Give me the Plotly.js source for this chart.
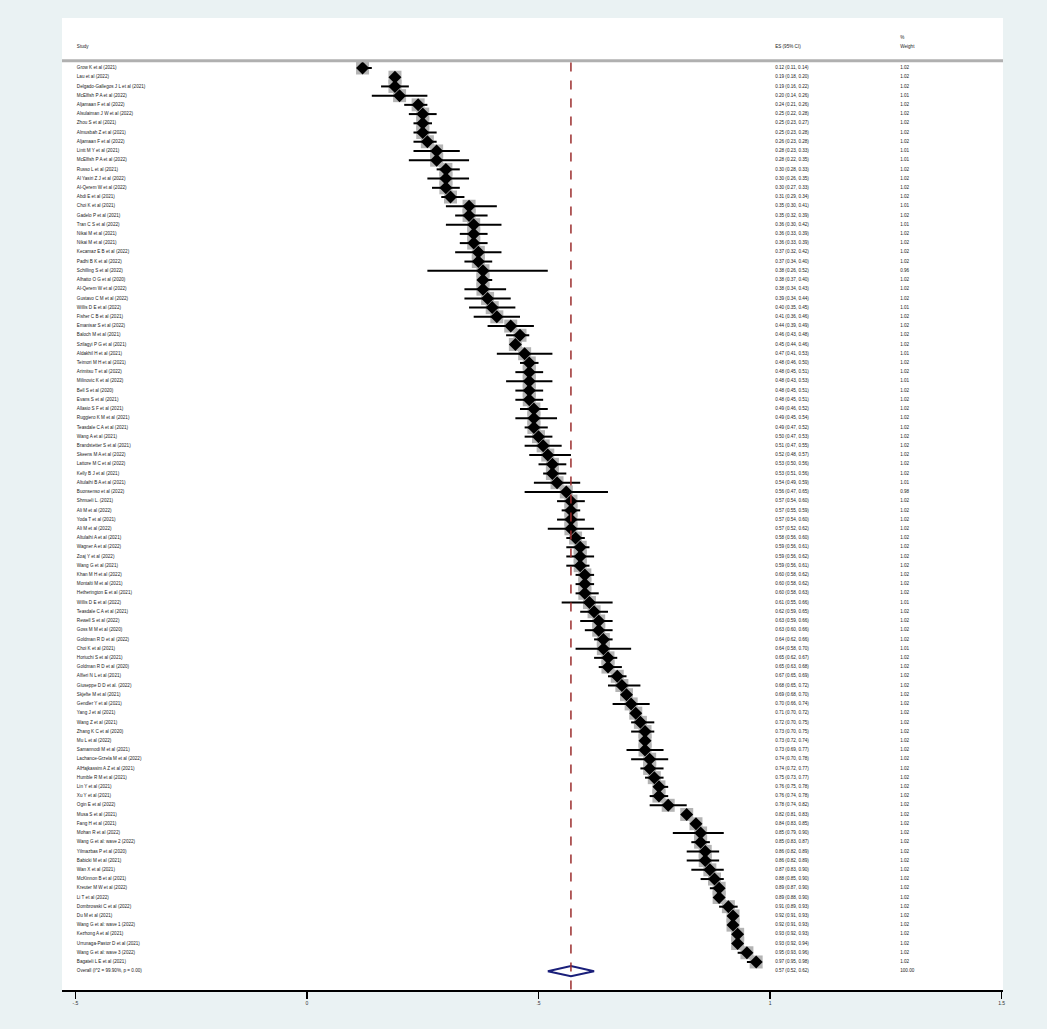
<!DOCTYPE html>
<html>
<head>
<meta charset="utf-8">
<script src="https://cdn.plot.ly/plotly-3.0.1.min.js"></script>
<style>html,body{margin:0;padding:0;background:#eaf2f3;}#chart{width:1047px;height:1029px;}</style>
</head>
<body>
<div id="chart"></div>
<script>
const studies = [
"Grow K et al (2021)","Lau et al (2022)","Delgado-Gallegos J L et al (2021)","McElfish P A et al (2022)","Aljamaan F et al (2022)",
"Alsulaiman J W et al (2022)","Zhou S et al (2021)","Almusbah Z et al (2021)","Aljamaan F et al (2022)","Lintt M Y et al (2021)",
"McElfish P A et al (2022)","Russo L et al (2021)","Al Yasiri Z J et al (2022)","Al-Qerem W et al (2022)","Abdi E et al (2021)",
"Choi K et al (2021)","Gadelo P et al (2021)","Tran C S et al (2022)","Nikai M et al (2021)","Nikai M et al (2021)",
"Kecamaz E B et al (2022)","Padhi B K et al (2022)","Schilling S et al (2022)","Alhatto O G et al (2020)","Al-Qerem W et al (2022)",
"Gustavo C M et al (2022)","Willis D E et al (2022)","Fisher C B et al (2021)","Emanisar S et al (2022)","Baloch M et al (2021)",
"Szilagyi P G et al (2021)","Aldakhil H et al (2021)","Teimori M H et al (2021)","Arimitsu T et al (2022)","Milinovic K et al (2022)",
"Bell S et al (2020)","Evans S et al (2021)","Allasio S F et al (2021)","Ruggiero K M et al (2021)","Teasdale C A et al (2021)",
"Wang A et al (2021)","Brandstetter S et al (2021)","Skeens M A et al (2022)","Lattore M C et al (2022)","Kelly B J et al (2021)",
"Altulaihi B A et al (2021)","Buonsenso et al (2022)","Shmueli L. (2021)","Ali M et al (2022)","Yoda T et al (2021)",
"Ali M et al (2022)","Altulaihi A et al (2021)","Wagner A et al (2022)","Zoaj Y et al (2022)","Wang G et al (2021)",
"Khan M H et al (2022)","Montalti M et al (2021)","Hetherington E et al (2021)","Willis D E et al (2022)","Teasdale C A et al (2021)",
"Rewell S et al (2022)","Goss M M et al (2020)","Goldman R D et al (2022)","Choi K et al (2021)","Horiuchi S et al (2021)",
"Goldman R D et al (2020)","Alfieri N L et al (2021)","Giuseppe D D et al. (2022)","Skjefte M et al (2021)","Gendler Y et al (2021)",
"Yang J et al (2021)","Wang Z et al (2021)","Zhang K C et al (2020)","Mu L et al (2022)","Samannodi M et al (2021)",
"Lachance-Grzela M et al (2022)","AlHajkassim A Z et al (2021)","Humble R M et al (2021)","Lin Y et al (2021)","Xu Y et al (2021)",
"Ogin E et al (2022)","Musa S et al (2021)","Fang H et al (2021)","Mohan R et al (2022)","Wang G et al: wave 2 (2022)",
"Yilmazbas P et al (2020)","Babicki M et al (2021)","Wan X et al (2021)","McKinnon B et al (2021)","Kreuter M W et al (2022)",
"Li T et al (2022)","Dombrowski C et al (2022)","Du M et al (2021)","Wang G et al: wave 1 (2022)","Kezhong A et al (2021)",
"Urrunaga-Pastor D et al (2021)","Wang G et al: wave 3 (2022)","Bagateli L E et al (2021)"
];
const es = [0.12,0.19,0.19,0.20,0.24,0.25,0.25,0.25,0.26,0.28,0.28,0.30,0.30,0.30,0.31,0.35,0.35,0.36,0.36,0.36,
0.37,0.37,0.38,0.38,0.38,0.39,0.40,0.41,0.44,0.46,0.45,0.47,0.48,0.48,0.48,0.48,0.48,0.49,0.49,0.49,
0.50,0.51,0.52,0.53,0.53,0.54,0.56,0.57,0.57,0.57,0.57,0.58,0.59,0.59,0.59,0.60,0.60,0.60,0.61,0.62,
0.63,0.63,0.64,0.64,0.65,0.65,0.67,0.68,0.69,0.70,0.71,0.72,0.73,0.73,0.73,0.74,0.74,0.75,0.76,0.76,
0.78,0.82,0.84,0.85,0.85,0.86,0.86,0.87,0.88,0.89,0.89,0.91,0.92,0.92,0.93,0.93,0.95,0.97];
const lo = [0.11,0.18,0.16,0.14,0.21,0.22,0.23,0.23,0.23,0.23,0.22,0.28,0.26,0.27,0.29,0.30,0.32,0.30,0.33,0.33,
0.32,0.34,0.26,0.37,0.34,0.34,0.35,0.36,0.39,0.43,0.44,0.41,0.46,0.45,0.43,0.45,0.45,0.46,0.45,0.47,
0.47,0.47,0.48,0.50,0.51,0.49,0.47,0.54,0.55,0.54,0.52,0.56,0.56,0.56,0.56,0.58,0.58,0.58,0.55,0.59,
0.59,0.60,0.62,0.58,0.62,0.63,0.65,0.65,0.68,0.66,0.70,0.70,0.70,0.72,0.69,0.70,0.72,0.73,0.75,0.74,
0.74,0.81,0.83,0.79,0.83,0.82,0.82,0.83,0.85,0.87,0.88,0.89,0.91,0.91,0.92,0.92,0.93,0.95];
const hi = [0.14,0.20,0.22,0.26,0.26,0.28,0.27,0.28,0.28,0.33,0.35,0.33,0.35,0.33,0.34,0.41,0.39,0.42,0.39,0.39,
0.42,0.40,0.52,0.40,0.43,0.44,0.45,0.46,0.49,0.48,0.46,0.53,0.50,0.51,0.53,0.51,0.51,0.52,0.54,0.52,
0.53,0.55,0.57,0.56,0.56,0.59,0.65,0.60,0.59,0.60,0.62,0.60,0.61,0.62,0.61,0.62,0.62,0.63,0.66,0.65,
0.66,0.66,0.66,0.70,0.67,0.68,0.69,0.72,0.70,0.74,0.72,0.75,0.75,0.74,0.77,0.78,0.77,0.77,0.78,0.78,
0.82,0.83,0.85,0.90,0.87,0.89,0.89,0.90,0.90,0.90,0.90,0.93,0.93,0.93,0.93,0.94,0.96,0.98];
const weights = ["1.02","1.02","1.02","1.01","1.02","1.02","1.02","1.02","1.02","1.01","1.01","1.02","1.02","1.02","1.02","1.01","1.02","1.01","1.02","1.02",
"1.02","1.02","0.96","1.02","1.02","1.02","1.01","1.02","1.02","1.02","1.02","1.01","1.02","1.02","1.01","1.02","1.02","1.02","1.02","1.02",
"1.02","1.02","1.02","1.02","1.02","1.01","0.98","1.02","1.02","1.02","1.02","1.02","1.02","1.02","1.02","1.02","1.02","1.02","1.01","1.02",
"1.02","1.02","1.02","1.01","1.02","1.02","1.02","1.02","1.02","1.02","1.02","1.02","1.02","1.02","1.02","1.02","1.02","1.02","1.02","1.02",
"1.02","1.02","1.02","1.02","1.02","1.02","1.02","1.02","1.02","1.02","1.02","1.02","1.02","1.02","1.02","1.02","1.02","1.02"];
const overall = {label: "Overall (I^2 = 99.90%, p = 0.00)", es: 0.57, lo: 0.52, hi: 0.62, weight: "100.00"};
const headers = {study: "Study", es: "ES (95% CI)", pct: "%", weight: "Weight"};
const tickVals = [-0.5, 0, 0.5, 1, 1.5];
const tickText = ["-.5", "0", ".5", "1", "1.5"];

const n = studies.length;
const rows = studies.map((_, i) => i + 1);
const oRow = n + 1;
const fmt = v => v.toFixed(2);
const esText = es.map((v, i) => fmt(v) + " (" + fmt(lo[i]) + ", " + fmt(hi[i]) + ")");
const FONT = "Liberation Sans, Arial, sans-serif";
const FS = 4.6;
const xName = -0.497, xEs = 1.011, xW = 1.281;

const traces = [
  {x: es, y: rows, type: "scatter", mode: "markers", hoverinfo: "skip",
   marker: {symbol: "square", size: 13, color: "#b4b4b4"}},
  {x: es, y: rows, type: "scatter", mode: "markers", hoverinfo: "skip",
   error_x: {type: "data", symmetric: false, array: es.map((v, i) => hi[i] - v), arrayminus: es.map((v, i) => v - lo[i]), width: 0, thickness: 2, color: "#000"},
   marker: {symbol: "diamond", size: 10, color: "#000"}},
  {x: [overall.lo, overall.es, overall.hi, overall.es, overall.lo], y: [oRow, oRow - 0.55, oRow, oRow + 0.55, oRow],
   type: "scatter", mode: "lines", line: {color: "#1a1f7a", width: 2}, fill: "toself", fillcolor: "#ffffff", hoverinfo: "skip"},
  {x: rows.map(() => xName).concat([xName]), y: rows.concat([oRow]), text: studies.concat([overall.label]), type: "scatter", mode: "text",
   textposition: "middle right", textfont: {family: FONT, size: FS, color: "#222"}, hoverinfo: "skip"},
  {x: rows.map(() => xEs).concat([xEs]), y: rows.concat([oRow]), text: esText.concat([fmt(overall.es) + " (" + fmt(overall.lo) + ", " + fmt(overall.hi) + ")"]), type: "scatter", mode: "text",
   textposition: "middle right", textfont: {family: FONT, size: FS, color: "#222"}, hoverinfo: "skip"},
  {x: rows.map(() => xW).concat([xW]), y: rows.concat([oRow]), text: weights.concat([overall.weight]), type: "scatter", mode: "text",
   textposition: "middle right", textfont: {family: FONT, size: FS, color: "#222"}, hoverinfo: "skip"},
  {x: [xName, xEs, xW, xW], y: [-1.28, -1.28, -1.28, -2.26], text: [headers.study, headers.es, headers.weight, headers.pct], type: "scatter", mode: "text",
   textposition: "middle right", textfont: {family: FONT, size: FS, color: "#222"}, hoverinfo: "skip"}
];

const layout = {
  width: 1047, height: 1029,
  paper_bgcolor: "#eaf2f3", plot_bgcolor: "#ffffff",
  margin: {l: 62, r: 44, t: 18, b: 39},
  showlegend: false,
  xaxis: {range: [-0.529, 1.503], tickvals: tickVals, ticktext: tickText, ticks: "outside", ticklen: 7, tickwidth: 1.5, tickcolor: "#000",
          showline: true, linecolor: "#000", linewidth: 2, showgrid: false, zeroline: false,
          tickfont: {family: FONT, size: 5, color: "#333"}},
  yaxis: {range: [101.04, -4.425], visible: false, showgrid: false, zeroline: false},
  shapes: [
    {type: "line", xref: "paper", x0: 0, x1: 1, yref: "y", y0: 0.2, y1: 0.2, line: {color: "#b0b0b0", width: 3}},
    {type: "line", xref: "x", x0: overall.es, x1: overall.es, yref: "y", y0: 0.4, y1: 101.04, line: {color: "#9b2d2d", width: 1.5, dash: "dash"}}
  ]
};

Plotly.newPlot("chart", traces, layout, {displayModeBar: false, staticPlot: true});
</script>
</body>
</html>
